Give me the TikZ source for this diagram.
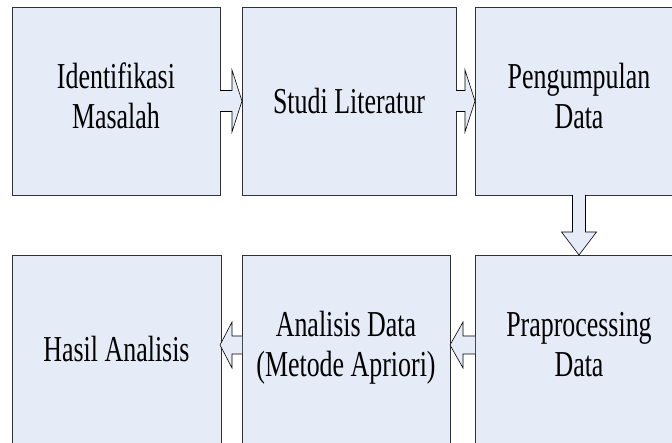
\documentclass[tikz,border=0pt]{standalone}
\usepackage{fontspec}
\setmainfont{Liberation Serif}
\usetikzlibrary{calc}
\definecolor{boxfill}{RGB}{230,236,247}
\definecolor{boxline}{RGB}{50,50,50}
\newcommand{\nar}[1]{\scalebox{0.71}[1]{\begin{tabular}{@{}c@{}}#1\end{tabular}}}
\newcommand{\narone}[1]{\scalebox{0.71}[1]{#1}}
\tikzset{
  stepbox/.style={draw=boxline, fill=boxfill, line width=0.7pt, inner sep=0pt, outer sep=0pt,
    minimum height=188pt, font=\fontsize{36.5}{40}\selectfont},
  blockarrow/.style={draw=black, fill=boxfill, line width=0.6pt, line join=miter}
}
\begin{document}
\begin{tikzpicture}[x=1pt,y=-1pt]
\useasboundingbox (0,0) rectangle (672,443);
\clip (0,0) rectangle (672,443);
% top row
\node[stepbox, minimum width=208pt] (b1) at (116,101) {\nar{Identifikasi\\Masalah}};
\node[stepbox, minimum width=214pt] (b2) at (349,101) {\narone{Studi Literatur}};
\node[stepbox, minimum width=208pt] (b3) at (579,101) {\nar{Pengumpulan\\Data}};
% bottom row
\node[stepbox, minimum width=209pt] (c1) at (116.5,349) {\narone{Hasil Analisis}};
\node[stepbox, minimum width=208pt] (c2) at (346,349) {\nar{Analisis Data\\(Metode Apriori)}};
\node[stepbox, minimum width=208pt] (c3) at (579,349) {\nar{Praprocessing\\Data}};
% right arrows
\draw[blockarrow] let \p1=(b1.east), \p2=(b2.west) in
  (\x1,\y1+10.5) -- (\x2-10,\y1+10.5) -- (\x2-10,\y1+31) -- (\x2,\y1)
  -- (\x2-10,\y1-31) -- (\x2-10,\y1-10.5) -- (\x1,\y1-10.5);
\draw[blockarrow] let \p1=(b2.east), \p2=(b3.west) in
  (\x1,\y1+10.5) -- (\x2-10,\y1+10.5) -- (\x2-10,\y1+31) -- (\x2,\y1)
  -- (\x2-10,\y1-31) -- (\x2-10,\y1-10.5) -- (\x1,\y1-10.5);
% down arrow
\draw[blockarrow] let \p1=(b3.south), \p2=(c3.north) in
  (\x1-6.5,\y1) -- (\x1-6.5,\y2+23) -- (\x1-17.5,\y2+23) -- (\x1,\y2)
  -- (\x1+17.5,\y2+23) -- (\x1+6.5,\y2+23) -- (\x1+6.5,\y1);
% left arrows
\draw[blockarrow] let \p1=(c2.west), \p2=(c1.east) in
  (\x1,\y1+4+9) -- (\x2+11,\y1+4+9) -- (\x2+11,\y1+4+23) -- (\x2-1,\y1+4)
  -- (\x2+11,\y1+4-23) -- (\x2+11,\y1+4-9) -- (\x1,\y1+4-9);
\draw[blockarrow] let \p1=(c3.west), \p2=(c2.east) in
  (\x1,\y1+4+9) -- (\x2+13,\y1+4+9) -- (\x2+13,\y1+4+23) -- (\x2,\y1+4)
  -- (\x2+13,\y1+4-23) -- (\x2+13,\y1+4-9) -- (\x1,\y1+4-9);
\end{tikzpicture}
\end{document}
